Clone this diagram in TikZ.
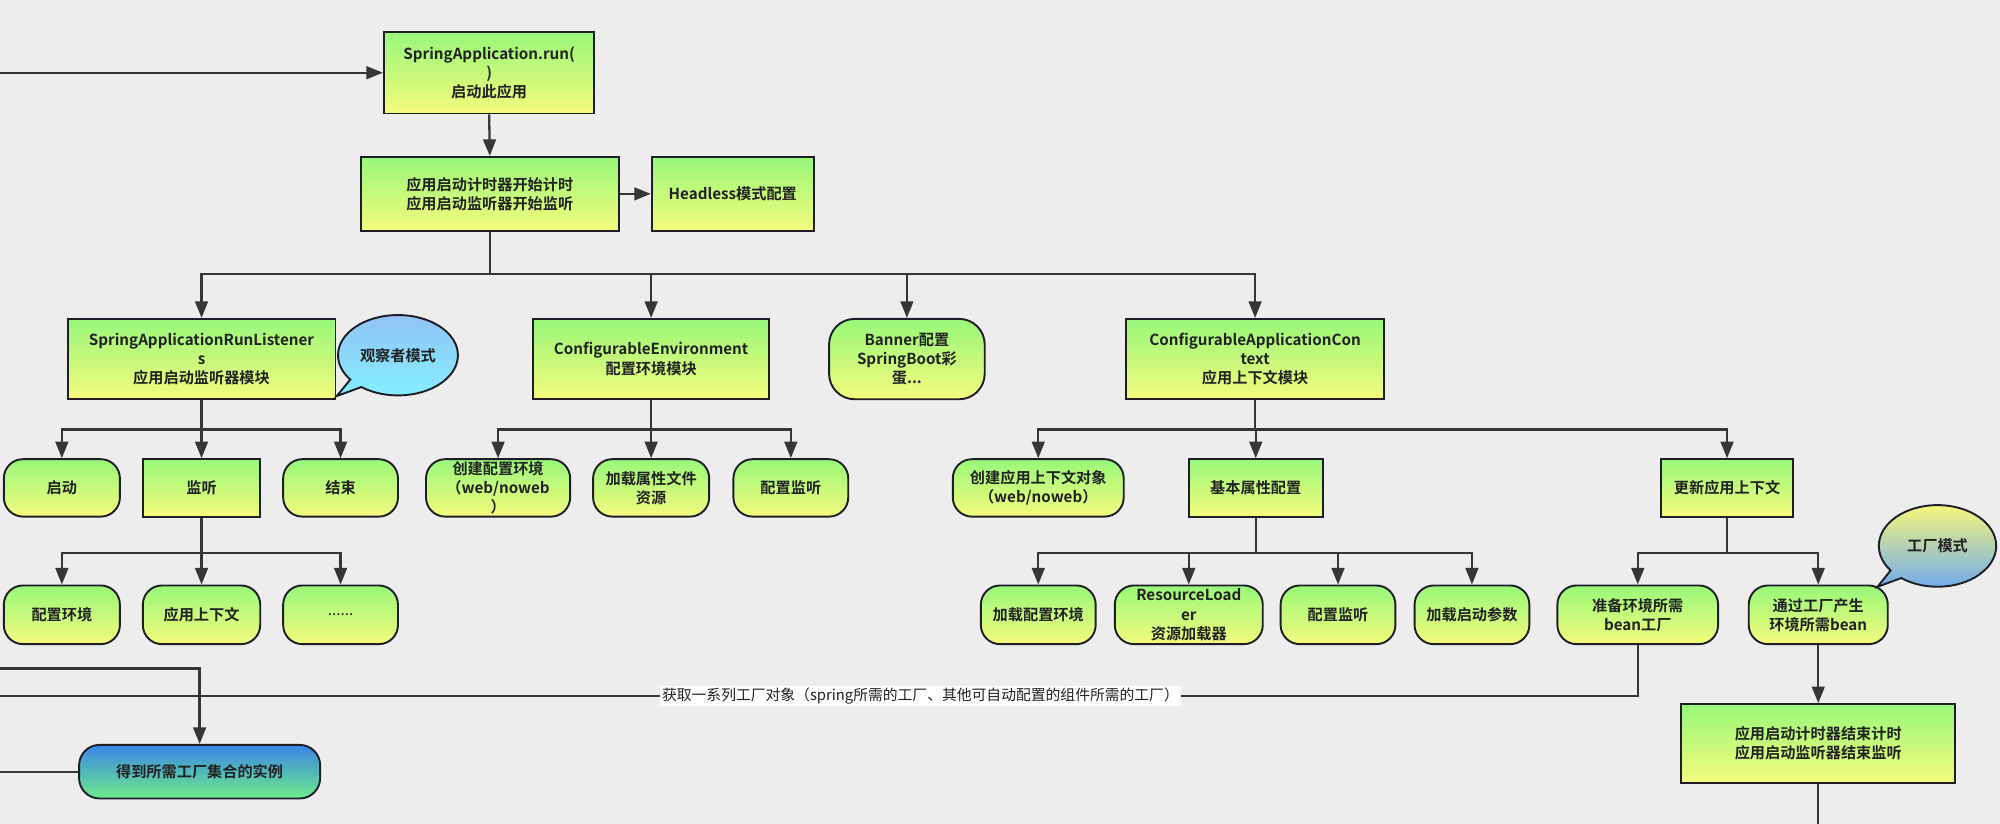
\documentclass[tikz,border=0pt]{standalone}
\usepackage{fontspec}
\setmainfont{Noto Sans CJK SC}[BoldFont={* Bold}]
\usetikzlibrary{arrows.meta,shapes.callouts,shapes.geometric}
\definecolor{bg}{HTML}{EDEDED}
\definecolor{ln}{HTML}{363636}
\definecolor{bd}{HTML}{1E1E28}
\definecolor{gtop}{HTML}{98F77A}
\definecolor{gbot}{HTML}{F5FB7C}
\definecolor{btop}{HTML}{3A86E8}
\definecolor{bbot}{HTML}{6EEA8A}
\definecolor{otop}{HTML}{92C3F7}
\definecolor{obot}{HTML}{84F1FF}
\definecolor{ftop}{HTML}{F6F67C}
\definecolor{fbot}{HTML}{69A7F2}
\definecolor{tx}{HTML}{222222}
\begin{document}
\begin{tikzpicture}[x=1pt,y=-1pt,
  box/.style={rectangle, draw=bd, line width=1.5pt, top color=gtop, bottom color=gbot,
    align=center, inner sep=0pt, text=tx, font=\bfseries\fontsize{11.9}{15}\selectfont},
  rbox/.style={box, rounded corners=15pt},
  bubble/.style={ellipse callout, draw=bd, line width=1.5pt, inner sep=0pt,
    align=center, text=tx, font=\bfseries\fontsize{11.9}{15}\selectfont},
  conn/.style={draw=ln, line width=1.8pt},
  arr/.style={conn, -{Triangle[length=13pt,width=10pt]}},
  lbl/.style={fill=white, inner sep=1.5pt, text=tx, font=\fontsize{11.6}{13}\selectfont},
]
\fill[bg] (0,0) rectangle (1568,646);
\useasboundingbox (0,0) rectangle (1568,646);

% top
\node[box, minimum width=165pt, minimum height=64pt] (run) at (383.5,57) {SpringApplication.run(\\)\\启动此应用};
\node[box, minimum width=202pt, minimum height=58pt] (timer) at (384,152) {应用启动计时器开始计时\\应用启动监听器开始监听};
\node[box, minimum width=127pt, minimum height=58pt] (headless) at (574.5,152) {Headless模式配置};

% row 1
\node[box, minimum width=210pt, minimum height=63pt] (sarl) at (158,281.5) {SpringApplicationRunListener\\s\\应用启动监听器模块};
\node[box, minimum width=185pt, minimum height=63pt] (ce) at (510.5,281.5) {ConfigurableEnvironment\\配置环境模块};
\node[rbox, minimum width=122pt, minimum height=63pt, rounded corners=20pt] (banner) at (711,281.5) {Banner配置\\SpringBoot彩\\蛋...};
\node[box, minimum width=202pt, minimum height=63pt] (cac) at (984,281.5) {ConfigurableApplicationCon\\text\\应用上下文模块};

\node[bubble, minimum width=94pt, minimum height=63pt, top color=otop, bottom color=obot,
  callout absolute pointer={(264,310.5)}] (obs) at (312,278.5) {观察者模式};

% row 2
\node[rbox, minimum width=91pt, minimum height=45pt] (start) at (48.5,382.5) {启动};
\node[box, minimum width=92pt, minimum height=45pt] (listen) at (158,382.5) {监听};
\node[rbox, minimum width=90pt, minimum height=45pt] (finish) at (267,382.5) {结束};
\node[rbox, minimum width=113pt, minimum height=45pt] (envc) at (390.5,382.5) {创建配置环境\\（web/noweb\\）};
\node[rbox, minimum width=91pt, minimum height=45pt] (loadp) at (510.5,382.5) {加载属性文件\\资源};
\node[rbox, minimum width=90pt, minimum height=45pt] (cfgl) at (620,382.5) {配置监听};
\node[rbox, minimum width=134pt, minimum height=45pt] (cctx) at (814,382.5) {创建应用上下文对象\\（web/noweb）};
\node[box, minimum width=105pt, minimum height=45pt] (basic) at (984.5,382.5) {基本属性配置};
\node[box, minimum width=104pt, minimum height=45pt] (refresh) at (1354,382.5) {更新应用上下文};

% row 3
\node[rbox, minimum width=91pt, minimum height=46pt] (env3) at (48.5,482) {配置环境};
\node[rbox, minimum width=92pt, minimum height=46pt] (appctx3) at (158,482) {应用上下文};
\node[rbox, minimum width=90pt, minimum height=46pt] (dots) at (267,482) {\mdseries ......};
\node[rbox, minimum width=90pt, minimum height=46pt] (le) at (814,482) {加载配置环境};
\node[rbox, minimum width=116pt, minimum height=46pt] (rl) at (932,482) {ResourceLoad\\er\\资源加载器};
\node[rbox, minimum width=90pt, minimum height=46pt] (cl) at (1049,482) {配置监听};
\node[rbox, minimum width=90pt, minimum height=46pt] (lp) at (1154,482) {加载启动参数};
\node[rbox, minimum width=126pt, minimum height=46pt] (prep) at (1284,482) {准备环境所需\\bean工厂};
\node[rbox, minimum width=109pt, minimum height=46pt] (viaf) at (1425.5,482) {通过工厂产生\\环境所需bean};

\node[bubble, minimum width=92pt, minimum height=64pt, top color=ftop, bottom color=fbot,
  callout absolute pointer={(1472,460)}] (fac) at (1519,428) {工厂模式};

\node[box, minimum width=215pt, minimum height=62pt] (endbox) at (1425.5,583) {应用启动计时器结束计时\\应用启动监听器结束监听};
\node[rbox, minimum width=189pt, minimum height=42pt, top color=btop, bottom color=bbot, rounded corners=16pt] (inst) at (156.5,605) {得到所需工厂集合的实例};

% connectors
\coordinate (inL) at (0,57);
\draw[arr] (inL) -- (run.west);
\draw[arr] (run.south) -- (timer.north);
\draw[arr] (timer.east) -- (headless.west);
\foreach \t in {sarl,ce,banner,cac} \draw[arr] (timer.south) -- ++(0,33) -| (\t.north);
\foreach \t in {start,listen,finish} \draw[arr] (sarl.south) -- ++(0,23) -| (\t.north);
\foreach \t in {env3,appctx3,dots} \draw[arr] (listen.south) -- ++(0,28) -| (\t.north);
\foreach \t in {envc,loadp,cfgl} \draw[arr] (ce.south) -- ++(0,23) -| (\t.north);
\foreach \t in {cctx,basic,refresh} \draw[arr] (cac.south) -- ++(0,23) -| (\t.north);
\foreach \t in {le,rl,cl,lp} \draw[arr] (basic.south) -- ++(0,28) -| (\t.north);
\foreach \t in {prep,viaf} \draw[arr] (refresh.south) -- ++(0,28) -| (\t.north);
\draw[arr] (viaf.south) -- (endbox.north);
\coordinate (endB) at (1425.5,646);
\draw[conn] (endbox.south) -- (endB);
\coordinate (gl) at (0,545.5);
\draw[conn] (prep.south) |- (gl) node[lbl, pos=0.719] (getlbl) {获取一系列工厂对象（spring所需的工厂、其他可自动配置的组件所需的工厂）};
\coordinate (l2) at (0,524);
\draw[arr] (l2) -| (inst.north);
\coordinate (l3) at (0,605);
\draw[conn] (l3) -- (inst.west);
\end{tikzpicture}
\end{document}
